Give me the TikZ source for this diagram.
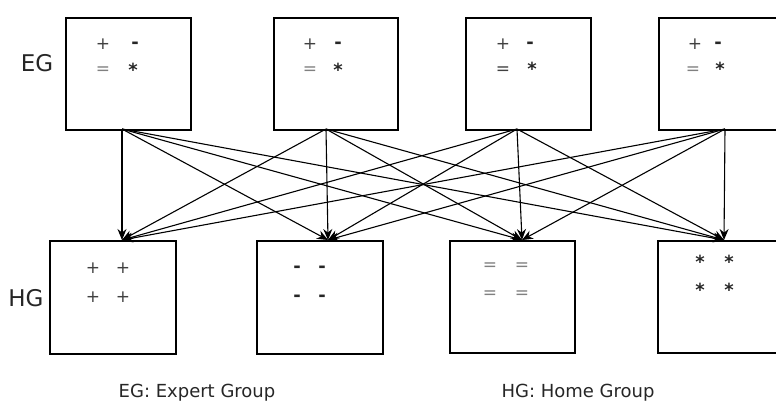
\documentclass[tikz,border=0pt]{standalone}
\usepackage{fontspec}
\setmainfont{DejaVu Sans}
\usetikzlibrary{arrows.meta}
\begin{document}
\begin{tikzpicture}[x=1pt,y=-1pt,
  box/.style={draw=black, line width=1.8pt, inner sep=0pt, anchor=north west, minimum height=112pt},
  sym/.style={inner sep=0pt, text=black!75, font=\fontsize{17}{17}\selectfont},
  symb/.style={inner sep=0pt, text=black!85, font=\fontsize{18}{18}\selectfont\bfseries},
  symeq/.style={sym, text=black!50},
  grp/.style={inner sep=0pt, font=\fontsize{23}{23}\selectfont, text=black!85},
  captext/.style={inner sep=0pt, anchor=base, font=\fontsize{18}{18}\selectfont, text=black!85},
  arr/.style={line width=1.1pt, -{Stealth[length=11pt,width=9pt]}}]
\useasboundingbox (0,0) rectangle (776,400);
\clip (0,0) rectangle (776,400);
% expert groups
\node[box, minimum width=125pt] (e1) at (65,17) {};
\node[box, minimum width=124pt] (e2) at (273,17) {};
\node[box, minimum width=125pt] (e3) at (465,17) {};
\node[box, minimum width=135pt] (e4) at (658,17) {};
% home groups
\node[box, minimum width=126pt, minimum height=113pt] (h1) at (49,240) {};
\node[box, minimum width=126pt, minimum height=113pt] (h2) at (256,240) {};
\node[box, minimum width=125pt] (h3) at (449,240) {};
\node[box, minimum width=135pt] (h4) at (657,240) {};
% symbols in EG boxes
\node[sym] (e1p) at (103,44) {+};  \node[symb] (e1m) at (135,45) {-};
\node[symeq] (e1q) at (103,71) {=}; \node[symb] (e1s) at (133,70) {*};
\node[sym] (e2p) at (310,44) {+};  \node[symb] (e2m) at (338,45) {-};
\node[symeq] (e2q) at (310,71) {=}; \node[symb] (e2s) at (338,70) {*};
\node[sym] (e3p) at (503,44) {+};  \node[symb] (e3m) at (530,45) {-};
\node[sym] (e3q) at (503,71) {=}; \node[symb] (e3s) at (532,69) {*};
\node[sym] (e4p) at (695,44) {+};  \node[symb] (e4m) at (718,45) {-};
\node[symeq] (e4q) at (693,71) {=}; \node[symb] (e4s) at (720,69) {*};
% symbols in HG boxes
\node[sym] (h1a) at (93,268) {+}; \node[sym] (h1b) at (123,268) {+};
\node[sym] (h1c) at (93,297) {+}; \node[sym] (h1d) at (123,297) {+};
\node[symb] (h2a) at (297,269) {-}; \node[symb] (h2b) at (322,269) {-};
\node[symb] (h2c) at (297,298) {-}; \node[symb] (h2d) at (322,298) {-};
\node[symeq] (h3a) at (490,267) {=}; \node[symeq] (h3b) at (522,267) {=};
\node[symeq] (h3c) at (490,295) {=}; \node[symeq] (h3d) at (522,295) {=};
\node[symb] (h4a) at (700,262) {*}; \node[symb] (h4b) at (729,262) {*};
\node[symb] (h4c) at (700,290) {*}; \node[symb] (h4d) at (729,290) {*};
% labels
\node[grp] (lEG) at (37,63) {EG};
\node[grp] (lHG) at (26,298) {HG};
\node[captext] (cEG) at (197,397) {EG: Expert Group};
\node[captext] (cHG) at (578,397) {HG: Home Group};
% connector end points
\coordinate (a1) at (122,129); \coordinate (a2) at (326,129);
\coordinate (a3) at (517,129); \coordinate (a4) at (725,129);
\coordinate (b1) at (122,240); \coordinate (b2) at (328,240);
\coordinate (b3) at (522,240); \coordinate (b4) at (724,240);
\foreach \i in {1,...,4}{
  \foreach \j in {1,...,4}{
    \draw[arr] (a\i) -- (b\j);
  }
}
\end{tikzpicture}
\end{document}
